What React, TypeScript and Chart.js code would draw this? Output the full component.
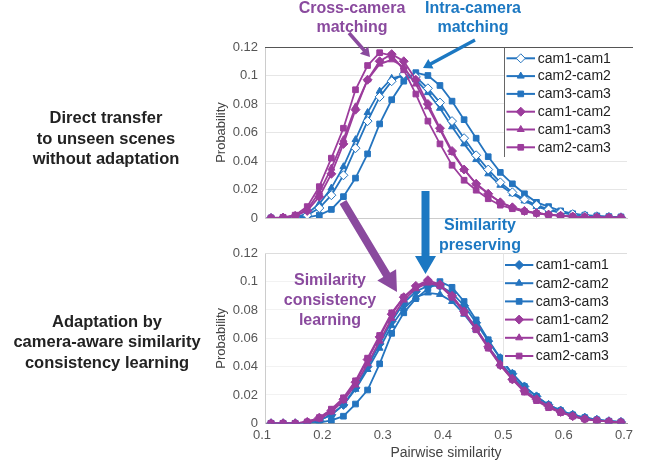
import React, { useEffect, useRef } from 'react';
import { Chart, registerables } from 'chart.js';
import { drawPoint } from 'chart.js/helpers';
Chart.register(...registerables);

const FONT = '"Liberation Sans", Arial, Helvetica, sans-serif';
const BLUE = '#2474bf';
const PURPLE = '#9c3c9c';
const ANN_PURPLE = '#8a4a9e';
const ANN_BLUE = '#1c78c2';

const xs = [0.11, 0.13, 0.15, 0.17, 0.19, 0.21, 0.23, 0.25, 0.27, 0.29, 0.31, 0.33, 0.35, 0.37, 0.39,
  0.41, 0.43, 0.45, 0.47, 0.49, 0.51, 0.53, 0.55, 0.57, 0.59, 0.61, 0.63, 0.65, 0.67, 0.69];
const seriesLabels = ['cam1-cam1', 'cam2-cam2', 'cam3-cam3', 'cam1-cam2', 'cam1-cam3', 'cam2-cam3'];
const xTickLabels = ['0.1', '0.2', '0.3', '0.4', '0.5', '0.6', '0.7'];
const yTickLabels = ['0', '0.02', '0.04', '0.06', '0.08', '0.1', '0.12'];

// Top: direct transfer
const topCam1Cam1 = [0, 0, 0.0003, 0.002, 0.007, 0.016, 0.03, 0.049, 0.068, 0.085, 0.096, 0.101, 0.099, 0.091, 0.081, 0.068, 0.056, 0.044, 0.034, 0.025, 0.018, 0.013, 0.009, 0.006, 0.004, 0.0027, 0.0018, 0.0012, 0.0008, 0.0005];
const topCam2Cam2 = [0, 0, 0.0005, 0.003, 0.01, 0.021, 0.036, 0.055, 0.074, 0.089, 0.098, 0.1, 0.097, 0.088, 0.077, 0.064, 0.052, 0.041, 0.031, 0.023, 0.017, 0.012, 0.008, 0.0055, 0.0037, 0.0025, 0.0016, 0.001, 0.0007, 0.0005];
const topCam3Cam3 = [0, 0, 0, 0.0005, 0.002, 0.006, 0.015, 0.028, 0.045, 0.066, 0.083, 0.096, 0.102, 0.1, 0.093, 0.082, 0.069, 0.056, 0.043, 0.032, 0.024, 0.017, 0.011, 0.008, 0.005, 0.003, 0.002, 0.0015, 0.001, 0.0008];
const topCam1Cam2 = [0, 0.0003, 0.0015, 0.005, 0.015, 0.031, 0.052, 0.076, 0.097, 0.11, 0.115, 0.11, 0.097, 0.08, 0.063, 0.047, 0.034, 0.024, 0.017, 0.011, 0.0075, 0.005, 0.0035, 0.0024, 0.0016, 0.001, 0.0007, 0.0005, 0.0003, 0.0002];
const topCam1Cam3 = [0, 0.0003, 0.0015, 0.006, 0.018, 0.035, 0.055, 0.078, 0.097, 0.108, 0.111, 0.106, 0.094, 0.078, 0.062, 0.046, 0.034, 0.024, 0.017, 0.011, 0.0075, 0.005, 0.0035, 0.0024, 0.0016, 0.001, 0.0007, 0.0005, 0.0003, 0.0002];
const topCam2Cam3 = [0, 0.0005, 0.002, 0.008, 0.022, 0.042, 0.063, 0.09, 0.107, 0.116, 0.114, 0.104, 0.087, 0.068, 0.052, 0.037, 0.0265, 0.0195, 0.0135, 0.009, 0.0065, 0.0045, 0.0032, 0.0022, 0.0015, 0.001, 0.0007, 0.0005, 0.0003, 0.0002];

// Bottom: adaptation
const botCam1Cam1 = [0, 0, 0, 0.0005, 0.002, 0.006, 0.013, 0.025, 0.04, 0.056, 0.072, 0.085, 0.093, 0.097, 0.097, 0.092, 0.083, 0.071, 0.058, 0.046, 0.035, 0.026, 0.019, 0.013, 0.009, 0.006, 0.004, 0.0025, 0.0015, 0.001];
const botCam2Cam2 = [0, 0, 0, 0.0005, 0.002, 0.006, 0.013, 0.024, 0.038, 0.053, 0.069, 0.081, 0.089, 0.092, 0.091, 0.086, 0.077, 0.066, 0.054, 0.043, 0.033, 0.024, 0.017, 0.012, 0.008, 0.005, 0.0035, 0.002, 0.0013, 0.0008];
const botCam3Cam3 = [0, 0, 0, 0, 0.0005, 0.002, 0.005, 0.0136, 0.0235, 0.042, 0.0635, 0.078, 0.088, 0.095, 0.1, 0.096, 0.086, 0.073, 0.059, 0.046, 0.035, 0.026, 0.019, 0.013, 0.009, 0.006, 0.004, 0.0025, 0.0015, 0.001];
const botCam1Cam2 = [0, 0, 0, 0.001, 0.004, 0.009, 0.017, 0.029, 0.045, 0.061, 0.077, 0.089, 0.097, 0.101, 0.098, 0.09, 0.079, 0.067, 0.054, 0.041, 0.031, 0.023, 0.017, 0.012, 0.008, 0.005, 0.003, 0.002, 0.0012, 0.0007];
const botCam1Cam3 = [0, 0, 0, 0.0008, 0.003, 0.008, 0.016, 0.027, 0.042, 0.058, 0.074, 0.087, 0.095, 0.099, 0.097, 0.09, 0.079, 0.067, 0.054, 0.042, 0.032, 0.023, 0.017, 0.012, 0.008, 0.005, 0.003, 0.002, 0.0012, 0.0007];
const botCam2Cam3 = [0, 0, 0, 0.001, 0.004, 0.01, 0.018, 0.03, 0.046, 0.062, 0.078, 0.089, 0.096, 0.1, 0.097, 0.089, 0.078, 0.066, 0.053, 0.041, 0.031, 0.022, 0.016, 0.011, 0.0075, 0.005, 0.003, 0.002, 0.0012, 0.0007];

const styles = ['rectRot', 'triangle', 'rect', 'rectRot', 'triangle', 'rect'];
const radii = [4.5, 4, 4, 4.5, 4, 4];

function makeDatasets(series: number[][], hollowFirst: boolean) {
  return series.map((vals, k) => {
    const color = k < 3 ? BLUE : PURPLE;
    return {
      label: seriesLabels[k],
      data: xs.map((x, i) => ({ x, y: vals[i] })),
      borderColor: color,
      backgroundColor: color,
      pointBackgroundColor: hollowFirst && k === 0 ? '#ffffff' : color,
      pointBorderColor: color,
      pointStyle: styles[k],
      pointRadius: radii[k],
      pointBorderWidth: 1,
      borderWidth: 1.8,
      tension: 0,
      order: k < 3 ? 1 : 0,
    };
  });
}

const frameLegend = {
  id: 'frameLegend',
  afterDatasetsDraw(chart: any, _a: any, o: any) {
    const ctx = chart.ctx;
    const ca = chart.chartArea;
    ctx.save();
    const ty = Math.round(ca.top) + 0.5;
    ctx.strokeStyle = o.topColor;
    ctx.lineWidth = 1;
    ctx.beginPath();
    ctx.moveTo(ca.left, ty);
    ctx.lineTo(ca.right + o.topExtend, ty);
    ctx.stroke();
    ctx.fillStyle = '#ffffff';
    ctx.fillRect(o.sepX + 1, ty + 0.5, ca.right - o.sepX + 4, o.bottom - ty - 0.5);
    ctx.strokeStyle = o.sepColor;
    ctx.beginPath();
    ctx.moveTo(o.sepX + 0.5, ty);
    ctx.lineTo(o.sepX + 0.5, o.bottom);
    ctx.stroke();
    chart.data.datasets.forEach((ds: any, i: number) => {
      const cy = o.y0 + i * o.dy;
      ctx.strokeStyle = ds.borderColor;
      ctx.lineWidth = 2;
      ctx.beginPath();
      ctx.moveTo(o.lineX0, cy);
      ctx.lineTo(o.lineX1, cy);
      ctx.stroke();
      ctx.fillStyle = ds.pointBackgroundColor;
      ctx.strokeStyle = ds.borderColor;
      ctx.lineWidth = 1;
      drawPoint(ctx, { pointStyle: ds.pointStyle, radius: ds.pointRadius, borderWidth: 1, rotation: 0 } as any, (o.lineX0 + o.lineX1) / 2, cy);
      ctx.fillStyle = '#222222';
      ctx.font = `14px ${FONT}`;
      ctx.textBaseline = 'middle';
      ctx.textAlign = 'left';
      ctx.fillText(ds.label, o.textX, cy + 0.5);
    });
    ctx.restore();
  },
};

const TOP_H = 234;
const BOT_H = 235;

function makeOptions(top: boolean): any {
  return {
    responsive: false,
    maintainAspectRatio: false,
    animation: false,
    layout: { padding: { top: top ? 47 : 23.3, right: 18, left: 0, bottom: 0 } },
    plugins: {
      legend: { display: false },
      tooltip: { enabled: false },
      frameLegend: top
        ? { topColor: '#555555', topExtend: 6, sepX: 304, sepColor: '#666666', bottom: 157, y0: 58.3, dy: 17.8, lineX0: 306.5, lineX1: 335, textX: 337.7 }
        : { topColor: '#dddddd', topExtend: 0, sepX: 303, sepColor: '#e4e4e4', bottom: 136, y0: 35, dy: 18.2, lineX0: 305, lineX1: 333.3, textX: 335.7 },
    },
    scales: {
      x: {
        type: 'linear',
        min: 0.1,
        max: 0.7,
        afterFit: (s: any) => { s.height = top ? TOP_H - 218 : 41.7; },
        grid: { display: false, drawTicks: false, tickLength: 0 },
        border: { display: true, color: top ? '#cccccc' : '#999999' },
        ticks: {
          display: !top,
          stepSize: 0.1,
          padding: 4,
          labelOffset: -3,
          color: '#555555',
          font: { family: FONT, size: 13 },
          callback: (_v: any, i: number) => xTickLabels[i],
        },
        title: {
          display: !top,
          text: 'Pairwise similarity',
          color: '#444444',
          font: { family: FONT, size: 14 },
          padding: { top: 0, bottom: 3.3 },
        },
      },
      y: {
        min: 0,
        max: 0.12,
        afterFit: (s: any) => { s.width = 65; },
        grid: { color: top ? '#e6e6e6' : '#f2f2f2', drawTicks: false, tickLength: 0 },
        border: { display: true, color: '#cccccc' },
        ticks: {
          stepSize: 0.02,
          padding: 7,
          color: '#555555',
          font: { family: FONT, size: 13 },
          callback: (_v: any, i: number) => yTickLabels[i],
        },
        title: {
          display: true,
          text: 'Probability',
          color: '#444444',
          font: { family: FONT, size: 13 },
          padding: { top: 14, bottom: 0 },
        },
      },
    },
  };
}

function ChartBox({ top, series, style }: { top: boolean; series: number[][]; style: React.CSSProperties }) {
  const ref = useRef<HTMLCanvasElement | null>(null);
  useEffect(() => {
    if (!ref.current) return;
    const chart = new Chart(ref.current, {
      type: 'line',
      data: { datasets: makeDatasets(series, top) as any },
      options: makeOptions(top),
      plugins: [frameLegend as any],
    });
    return () => chart.destroy();
  }, []);
  const w = 445;
  const h = top ? TOP_H : BOT_H;
  return <canvas ref={ref} width={w} height={h} style={{ position: 'absolute', width: w, height: h, ...style }} />;
}

function arrowPts(x1: number, y1: number, x2: number, y2: number, sw: number, hw: number, hl: number) {
  const dx = x2 - x1, dy = y2 - y1;
  const L = Math.hypot(dx, dy);
  const ux = dx / L, uy = dy / L;
  const px = -uy, py = ux;
  const bx = x2 - ux * hl, by = y2 - uy * hl;
  const p = [
    [x1 + px * sw / 2, y1 + py * sw / 2],
    [bx + px * sw / 2, by + py * sw / 2],
    [bx + px * hw / 2, by + py * hw / 2],
    [x2, y2],
    [bx - px * hw / 2, by - py * hw / 2],
    [bx - px * sw / 2, by - py * sw / 2],
    [x1 - px * sw / 2, y1 - py * sw / 2],
  ];
  return p.map((q) => q.map((v) => v.toFixed(1)).join(',')).join(' ');
}

const textBase: React.CSSProperties = {
  position: 'absolute',
  fontFamily: FONT,
  fontWeight: 'bold',
  textAlign: 'center',
  whiteSpace: 'nowrap',
};

export default function App() {
  return (
    <div style={{ position: 'absolute', left: 0, top: 0, width: 645, height: 465, background: '#ffffff', overflow: 'hidden' }}>
      <ChartBox top={false} series={[botCam1Cam1, botCam2Cam2, botCam3Cam3, botCam1Cam2, botCam1Cam3, botCam2Cam3]} style={{ left: 200, top: 230 }} />
      <ChartBox top={true} series={[topCam1Cam1, topCam2Cam2, topCam3Cam3, topCam1Cam2, topCam1Cam3, topCam2Cam3]} style={{ left: 200, top: 0 }} />

      <svg width={645} height={465} style={{ position: 'absolute', left: 0, top: 0, pointerEvents: 'none' }}>
        <polygon points={arrowPts(349, 33, 370, 57, 3.5, 11, 9)} fill={ANN_PURPLE} />
        <polygon points={arrowPts(475, 40, 423, 68, 3.5, 11, 9)} fill={ANN_BLUE} />
        <polygon points={arrowPts(343, 202, 397, 292, 8, 22, 20)} fill={ANN_PURPLE} />
        <polygon points={arrowPts(425.5, 191, 425.5, 274, 8, 21, 18)} fill={ANN_BLUE} />
      </svg>

      <div style={{ ...textBase, left: 292, top: -2.5, width: 120, fontSize: 16, lineHeight: '19.5px', color: ANN_PURPLE }}>
        Cross-camera<br />matching
      </div>
      <div style={{ ...textBase, left: 413, top: -2.5, width: 120, fontSize: 16, lineHeight: '19.5px', color: ANN_BLUE }}>
        Intra-camera<br />matching
      </div>
      <div style={{ ...textBase, left: 420, top: 215, width: 120, fontSize: 16, lineHeight: '20px', color: ANN_BLUE }}>
        Similarity<br />preserving
      </div>
      <div style={{ ...textBase, left: 270, top: 270, width: 120, fontSize: 16, lineHeight: '20px', color: ANN_PURPLE }}>
        Similarity<br />consistency<br />learning
      </div>

      <div style={{ ...textBase, left: 1, top: 107, width: 210, fontSize: 16.5, lineHeight: '20.5px', color: '#222222' }}>
        Direct transfer<br />to unseen scenes<br />without adaptation
      </div>
      <div style={{ ...textBase, left: 2, top: 310.5, width: 210, fontSize: 16.5, lineHeight: '20.5px', color: '#222222' }}>
        Adaptation by<br />camera-aware similarity<br />consistency learning
      </div>
    </div>
  );
}
